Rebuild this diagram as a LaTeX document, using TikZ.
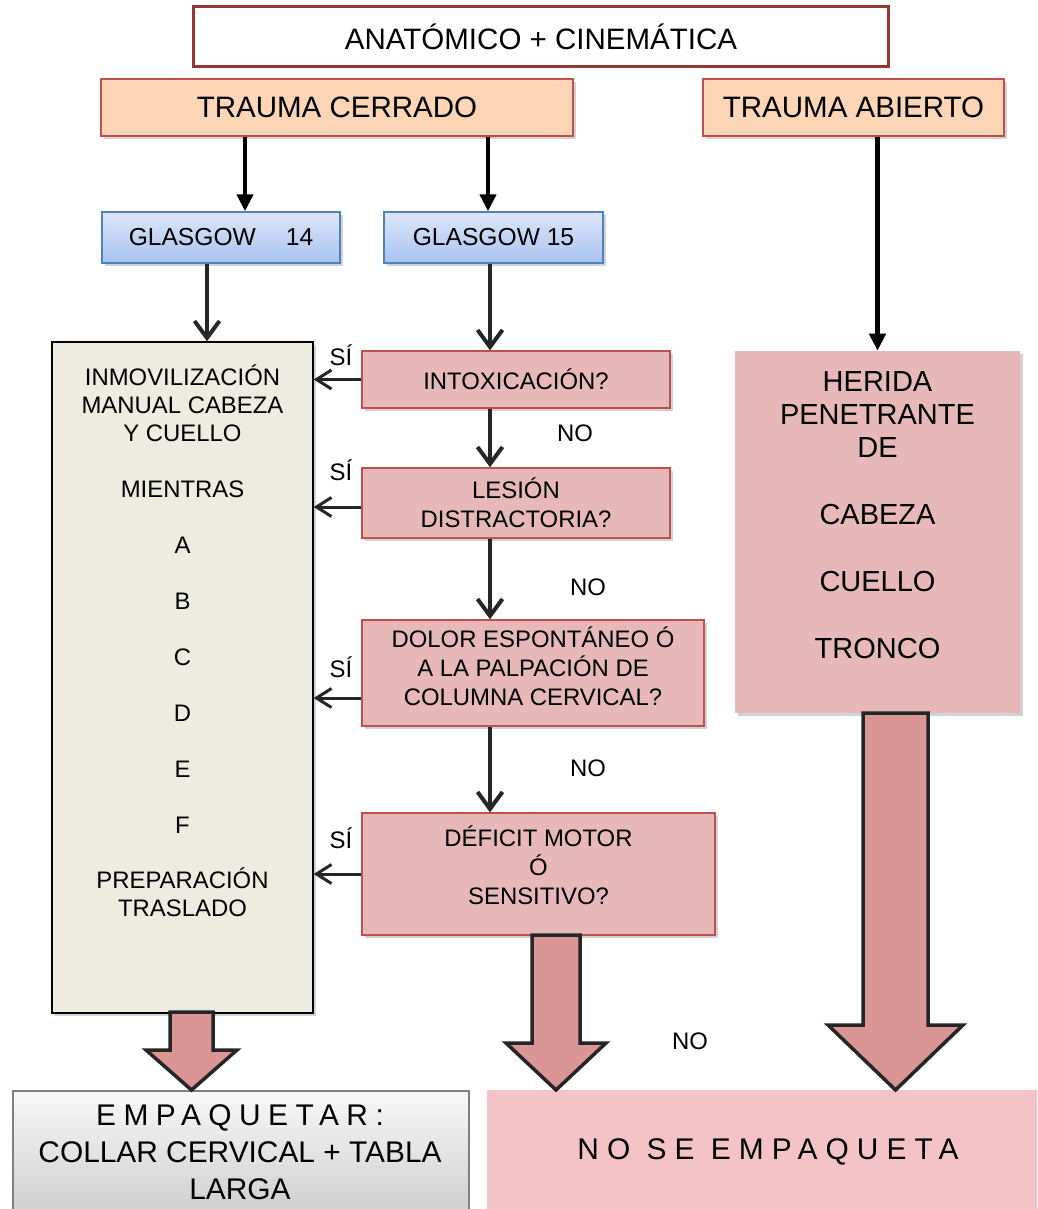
\documentclass[tikz,border=0pt]{standalone}
\usepackage{fontspec}
\setmainfont{Liberation Sans}
\usetikzlibrary{arrows.meta, positioning, calc, shadows}

\definecolor{anatRed}{HTML}{953735}
\definecolor{traumaFill}{HTML}{FBD5B5}
\definecolor{traumaEdge}{HTML}{C0504D}
\definecolor{glasTop}{HTML}{DDE7F8}
\definecolor{glasBot}{HTML}{A7C2F0}
\definecolor{glasEdge}{HTML}{4F81BD}
\definecolor{decFill}{HTML}{E6B9B8}
\definecolor{inmovFill}{HTML}{EEECE1}
\definecolor{bigFill}{HTML}{D99694}
\definecolor{arrowGray}{HTML}{262626}
\definecolor{packTop}{HTML}{F8F8F8}
\definecolor{packBot}{HTML}{CCCCCC}
\definecolor{packEdge}{HTML}{808080}
\definecolor{nopackFill}{HTML}{F3C3C8}

\tikzset{%
	soft shadow/.style={
		drop shadow={shadow xshift=0.06cm, shadow yshift=-0.06cm, opacity=0.35}
	},
	titlebox/.style={
		draw=anatRed,
		line width=0.06cm,
		fill=white,
		minimum width=13.92cm,
		minimum height=1.22cm,
		font=\fontsize{16.8}{20}\selectfont
	},
	traumabox/.style={
		draw=traumaEdge,
		fill=traumaFill,
		line width=0.8pt,
		minimum height=1.14cm,
		soft shadow,
		font=\fontsize{16.8}{20}\selectfont
	},
	glasbox/.style={
		draw=glasEdge,
		top color=glasTop,
		bottom color=glasBot,
		line width=0.8pt,
		minimum height=1.02cm,
		soft shadow,
		font=\fontsize{14}{17}\selectfont
	},
	decbox/.style={
		draw=traumaEdge,
		fill=decFill,
		line width=0.8pt,
		minimum width=6.16cm,
		align=center,
		soft shadow,
		font=\fontsize{13.6}{16.4}\selectfont
	},
	dectext/.style={
		inner sep=0pt,
		align=center,
		font=\fontsize{13.6}{16.4}\selectfont
	},
	labeltext/.style={
		inner sep=0pt,
		font=\fontsize{13.6}{16}\selectfont
	},
	toparrow/.style={
		-{Triangle[length=0.34cm, width=0.32cm]},
		line width=0.09cm,
		draw=black
	},
	noarrow/.style={
		-{Straight Barb[length=0.34cm, width=0.5cm]},
		line width=0.08cm,
		draw=arrowGray
	},
	siarrow/.style={
		-{Straight Barb[length=0.3cm, width=0.38cm]},
		line width=0.06cm,
		draw=arrowGray
	},
	bigarrow/.style={
		fill=bigFill,
		draw=arrowGray,
		line width=0.07cm,
		line join=miter
	},
}

% x centre, top, head top, half shaft, half head, tip
\newcommand{\blockarrow}[6]{%
	\draw[bigarrow] (#1-#4,#2) -- (#1+#4,#2) -- (#1+#4,#3) -- (#1+#5,#3)
		-- (#1,#6) -- (#1-#5,#3) -- (#1-#4,#3) -- cycle;
}

\begin{document}
\begin{tikzpicture}[x=0.02cm, y=-0.02cm]
	
	\useasboundingbox (0,0) rectangle (1037,1209);
	\clip (0,0) rectangle (1037,1209);
	\fill[white] (0,0) rectangle (1037,1209);
	
	% Header
	\node[titlebox] (anat) at (541,36.5) {ANATÓMICO + CINEMÁTICA};
	\node[traumabox, minimum width=9.44cm] (cerrado) at (337,107.5) {TRAUMA CERRADO};
	\node[traumabox, minimum width=6.02cm] (abierto) at (853.5,107.5) {TRAUMA ABIERTO};
	
	% Glasgow
	\node[glasbox, minimum width=4.76cm] (g14) at (221,237.5) {GLASGOW\hspace{0.6cm}14};
	\node[glasbox, minimum width=4.38cm] (g15) at (493.5,237.5) {GLASGOW 15};
	
	% Left column
	\node[draw=black, fill=inmovFill, line width=0.8pt, minimum width=5.22cm,
		minimum height=13.42cm, soft shadow] (inmov) at (182.5,677.5) {};
	\node[inner sep=0pt, align=center, font=\fontsize{13.6}{15.9}\selectfont]
		(inmovtext) at (182.5,641) {INMOVILIZACIÓN\\MANUAL CABEZA\\Y CUELLO\\[0.56cm]MIENTRAS\\[0.56cm]A\\[0.56cm]B\\[0.56cm]C\\[0.56cm]D\\[0.56cm]E\\[0.56cm]F\\[0.56cm]PREPARACIÓN\\TRASLADO};
	
	% Questions
	\node[decbox, minimum height=1.14cm] (intox) at (516,379.5) {INTOXICACIÓN?};
	\node[decbox, minimum height=1.40cm] (lesion) at (516,503) {LESIÓN\\DISTRACTORIA?};
	\node[decbox, minimum width=6.84cm, minimum height=2.12cm] (dolor) at (533,673) {};
	\node[dectext] (dolortext) at (533,666) {DOLOR ESPONTÁNEO Ó\\A LA PALPACIÓN DE\\COLUMNA CERVICAL?};
	\node[decbox, minimum width=7.06cm, minimum height=2.44cm] (deficit) at (538.5,874) {};
	\node[dectext] (deficittext) at (538.5,865) {DÉFICIT MOTOR\\Ó\\SENSITIVO?};
	
	% Open trauma
	\node[fill=decFill, minimum width=5.70cm, minimum height=7.24cm, soft shadow] (herida) at (877.5,532) {};
	\node[inner sep=0pt, align=center, font=\fontsize{16.5}{19}\selectfont]
		(heridatext) at (877.5,515) {HERIDA\\PENETRANTE\\DE\\[0.67cm]CABEZA\\[0.67cm]CUELLO\\[0.67cm]TRONCO};
	
	% Results
	\node[draw=packEdge, top color=packTop, bottom color=packBot, line width=1pt,
		minimum width=9.12cm, minimum height=2.6cm, anchor=north west] (empaq) at (12,1090) {};
	\node[inner sep=0pt, align=center, font=\fontsize{17}{21}\selectfont]
		(empaqtext) at (240,1152) {{\addfontfeature{LetterSpace=25}EMPAQUETAR:}\\COLLAR CERVICAL + TABLA\\LARGA};
	\node[fill=nopackFill, minimum width=11.2cm, minimum height=2.6cm, anchor=north west] (noemp) at (487,1090) {};
	\node[inner sep=0pt, font=\fontsize{17}{20}\selectfont\addfontfeature{LetterSpace=27}]
		(noemptext) at (768,1152) {NO SE EMPAQUETA};
	
	% Thin arrows
	\coordinate (c14) at (245,0);
	\coordinate (c15) at (488,0);
	\coordinate (cleft) at (207,0);
	\coordinate (midcol) at (490,0);
	\draw[toparrow] (cerrado.south -| c14) -- (g14.north -| c14);
	\draw[toparrow] (cerrado.south -| c15) -- (g15.north -| c15);
	\draw[toparrow] (abierto.south -| herida.north) -- (herida.north);
	\draw[noarrow] (g14.south -| cleft) -- (inmov.north -| cleft);
	\draw[noarrow] (g15.south -| midcol) -- (intox.north -| midcol);
	\draw[noarrow] (intox.south -| midcol) -- (lesion.north -| midcol);
	\draw[noarrow] (lesion.south -| midcol) -- (dolor.north -| midcol);
	\draw[noarrow] (dolor.south -| midcol) -- (deficit.north -| midcol);
	
	\coordinate (lesionsi) at ($(lesion.west)+(0,4)$);
	\coordinate (dolorsi) at ($(dolor.west)+(0,25)$);
	\draw[siarrow] (intox.west) -- (intox.west -| inmov.east);
	\draw[siarrow] (lesionsi) -- (lesionsi -| inmov.east);
	\draw[siarrow] (dolorsi) -- (dolorsi -| inmov.east);
	\draw[siarrow] (deficit.west) -- (deficit.west -| inmov.east);
	
	% Labels
	\node[labeltext] (si1) at (341,355) {SÍ};
	\node[labeltext] (si2) at (341,470) {SÍ};
	\node[labeltext] (si3) at (341,667) {SÍ};
	\node[labeltext] (si4) at (341,838) {SÍ};
	\node[labeltext] (no1) at (575,433) {NO};
	\node[labeltext] (no2) at (588,587) {NO};
	\node[labeltext] (no3) at (588,768) {NO};
	\node[labeltext] (no4) at (690,1041) {NO};
	
	% Block arrows
	\blockarrow{191.5}{1012}{1050}{21.5}{45.5}{1090}
	\blockarrow{556}{935}{1043}{24}{50}{1090}
	\blockarrow{895.5}{713}{1025}{32.5}{67.5}{1090}
	
\end{tikzpicture}
\end{document}
